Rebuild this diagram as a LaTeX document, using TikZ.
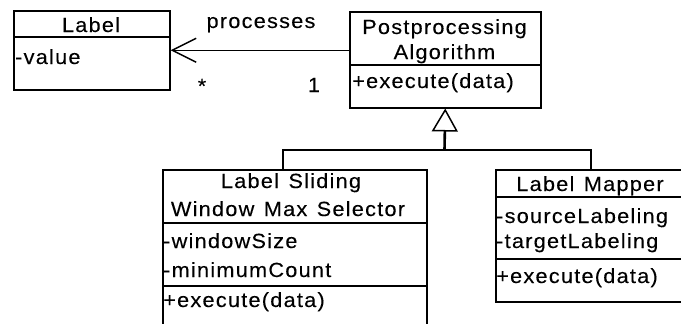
\documentclass[tikz,border=0pt]{standalone}
\usepackage{fontspec}
\setmainfont{Liberation Sans}[LetterSpace=6,FakeStretch=1.06,WordSpace=1.3,FakeBold=0.12]
\usetikzlibrary{arrows.meta}
\begin{document}
\begin{tikzpicture}[x=1pt,y=-1pt,
  box/.style={draw, line width=1.5pt, fill=white, inner sep=0pt, anchor=north west},
  sep/.style={line width=1.5pt},
  txt/.style={inner sep=0pt, font=\fontsize{20.5}{25}\selectfont},
  ctxt/.style={txt, anchor=base},
  ltxt/.style={txt, anchor=base west},
  assoc/.style={line width=1.5pt, -{Straight Barb[length=24pt,width=24pt,line width=1.5pt]}},
  gen/.style={line width=1.5pt},
  stem/.style={line width=2.6pt, -{Triangle[open,length=23pt,width=26pt,line width=1.5pt]}}
]
\useasboundingbox (0,0) rectangle (681,324);
\clip (0,0) rectangle (681,324);

% Label
\node[box, minimum width=156pt, minimum height=79pt] (label) at (13,10) {};
\draw[sep] (13,37) -- (169,37);
\node[ctxt] (labelT) at (91,32) {Label};
\node[ltxt] (labelA) at (15,64) {-value};

% Postprocessing Algorithm
\node[box, minimum width=191pt, minimum height=96pt] (algo) at (349,11) {};
\draw[sep] (349,65) -- (540,65);
\node[ctxt] (algoT1) at (444.5,34) {Postprocessing};
\node[ctxt] (algoT2) at (444.5,59) {Algorithm};
\node[ltxt] (algoO) at (352,88) {+execute(data)};

% Label Sliding Window Max Selector
\node[box, minimum width=264pt, minimum height=180pt] (slide) at (162,169) {};
\draw[sep] (162,223) -- (426,223);
\draw[sep] (162,286) -- (426,286);
\node[ctxt] (slideT1) at (291,188) {Label Sliding};
\node[ctxt] (slideT2) at (288,216) {Window Max Selector};
\node[ltxt] (slideA1) at (163,248) {-windowSize};
\node[ltxt] (slideA2) at (163,277) {-minimumCount};
\node[ltxt] (slideO) at (163,307) {+execute(data)};

% Label Mapper
\node[box, minimum width=190pt, minimum height=132pt] (mapper) at (495,169) {};
\draw[sep] (495,197) -- (685,197);
\draw[sep] (495,259) -- (685,259);
\node[ctxt] (mapT) at (590,191) {Label Mapper};
\node[ltxt] (mapA1) at (496,223) {-sourceLabeling};
\node[ltxt] (mapA2) at (496,248) {-targetLabeling};
\node[ltxt] (mapO) at (496,283) {+execute(data)};

% association
\draw[assoc] (algo.west |- label.east) -- (label.east);
\node[ctxt] (proc) at (261,28) {processes};
\node[ctxt] (mstar) at (202,93) {*};
\node[ctxt] (mone) at (314,92) {1};

% generalization
\coordinate (j) at (444.5,150);
\coordinate (sT) at (283,169);
\draw[gen] (sT) |- (mapper.north |- j) -- (mapper.north);
\draw[stem] (j) -- (algo.south);
\end{tikzpicture}
\end{document}
